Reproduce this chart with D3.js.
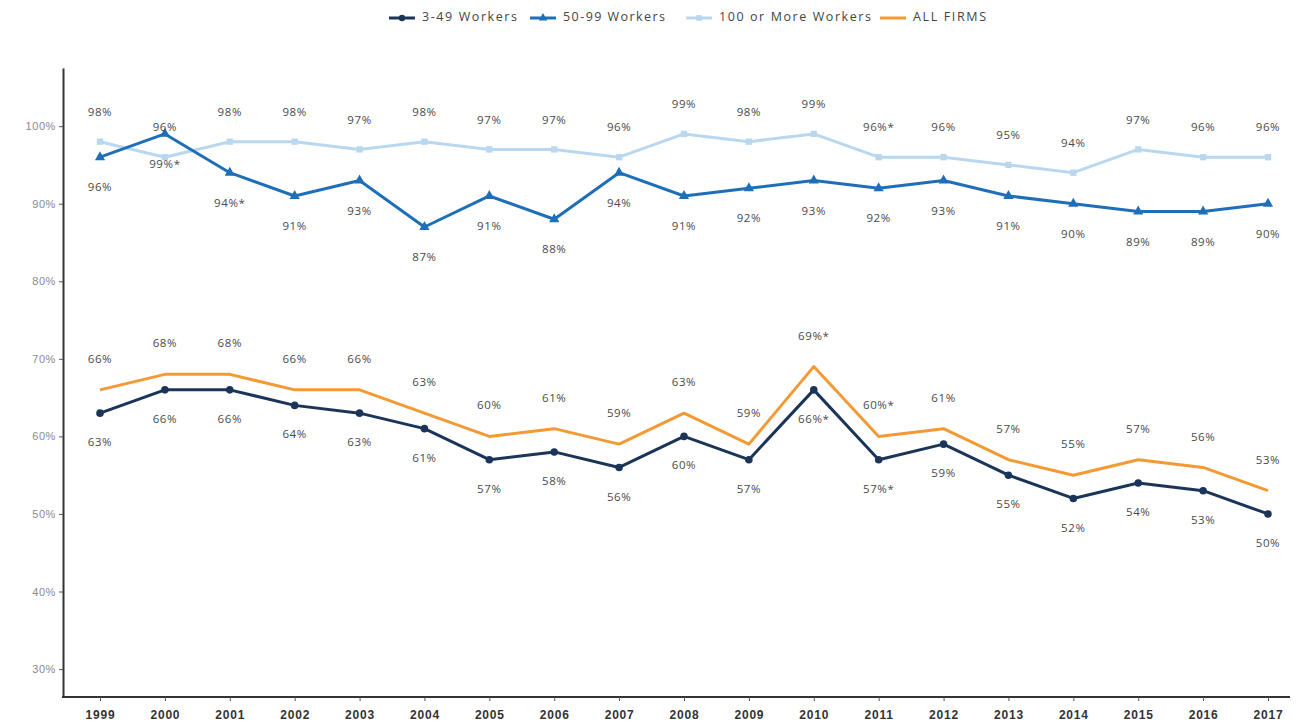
<!DOCTYPE html>
<html><head><meta charset="utf-8">
<script src="https://cdn.jsdelivr.net/npm/d3@7"></script>
<style>body{margin:0;background:#fff;font-family:"Open Sans","DejaVu Sans",sans-serif;}</style>
</head><body><svg id="c" width="1303" height="726"></svg>
<script>
const years = [1999,2000,2001,2002,2003,2004,2005,2006,2007,2008,2009,2010,2011,2012,2013,2014,2015,2016,2017];
const small = [63,66,66,64,63,61,57,58,56,60,57,66,57,59,55,52,54,53,50];
const smallLabels = ["63%","66%","66%","64%","63%","61%","57%","58%","56%","60%","57%","66%*","57%*","59%","55%","52%","54%","53%","50%"];
const mid = [96,99,94,91,93,87,91,88,94,91,92,93,92,93,91,90,89,89,90];
const midLabels = ["96%","99%*","94%*","91%","93%","87%","91%","88%","94%","91%","92%","93%","92%","93%","91%","90%","89%","89%","90%"];
const large = [98,96,98,98,97,98,97,97,96,99,98,99,96,96,95,94,97,96,96];
const largeLabels = ["98%","96%","98%","98%","97%","98%","97%","97%","96%","99%","98%","99%","96%*","96%","95%","94%","97%","96%","96%"];
const all = [66,68,68,66,66,63,60,61,59,63,59,69,60,61,57,55,57,56,53];
const allLabels = ["66%","68%","68%","66%","66%","63%","60%","61%","59%","63%","59%","69%*","60%*","61%","57%","55%","57%","56%","53%"];
const yTicks = [30,40,50,60,70,80,90,100];

const svg = d3.select("#c");
const x = d3.scalePoint().domain(years).range([100,1268]);
const y = d3.scaleLinear().domain([26.4,107.5]).range([697,68]);

const series = [
  {name:"3-49 Workers", vals:small, labels:smallLabels, color:"#1b3558", shape:d3.symbolCircle, size:45, dy:30, order:3},
  {name:"50-99 Workers", vals:mid, labels:midLabels, color:"#1f6fb8", shape:d3.symbolTriangle, size:45, dy:31, order:1},
  {name:"100 or More Workers", vals:large, labels:largeLabels, color:"#b9d8ef", shape:d3.symbolSquare, size:40, dy:-29, order:0},
  {name:"ALL FIRMS", vals:all, labels:allLabels, color:"#f39a34", shape:null, size:0, dy:-30, order:2}
];

// axes
const gy = svg.append("g").attr("transform","translate(63,0)")
  .call(d3.axisLeft(y).tickValues(yTicks).tickFormat(d=>d+"%").tickSize(4).tickSizeOuter(0));
gy.select(".domain").attr("stroke","#333").attr("stroke-width",2);
gy.selectAll(".tick line").attr("stroke","#555");
gy.selectAll(".tick text").attr("fill","#8a8a8a").attr("font-size",11).attr("letter-spacing",0.6).attr("x",-7);

const gx = svg.append("g").attr("transform","translate(0,697)")
  .call(d3.axisBottom(x).tickSize(4).tickSizeOuter(0));
gx.select(".domain").attr("d","M62,0H1290").attr("stroke","#333").attr("stroke-width",2);
gx.selectAll(".tick line").attr("stroke","#555");
gx.selectAll(".tick text").attr("fill","#333").attr("font-size",12).attr("font-weight","bold").attr("letter-spacing",0.8).attr("y",13);

const line = d3.line().x((d,i)=>x(years[i])).y(d=>y(d));
const drawOrder = [...series].sort((a,b)=>a.order-b.order);
drawOrder.forEach(s=>{
  svg.append("path").datum(s.vals).attr("d",line).attr("fill","none")
    .attr("stroke",s.color).attr("stroke-width",3).attr("stroke-linejoin","round");
  if(s.shape){
    svg.append("g").selectAll("path").data(s.vals).join("path")
      .attr("d",d3.symbol().type(s.shape).size(s.size))
      .attr("transform",(d,i)=>`translate(${x(years[i])},${y(d)})`)
      .attr("fill",s.color);
  }
});
series.forEach(s=>{
  svg.append("g").selectAll("text").data(s.vals).join("text")
    .attr("x",(d,i)=>x(years[i])).attr("y",d=>y(d)+s.dy)
    .attr("text-anchor","middle").attr("dominant-baseline","middle")
    .attr("font-size",11.5).attr("letter-spacing",0.6).attr("fill","#4a4a4a")
    .text((d,i)=>s.labels[i]);
});

// legend
const legX = [389,530,686,880];
const legW = [95,102,152,73];
series.forEach((s,i)=>{
  const g = svg.append("g").attr("transform",`translate(${legX[i]},18)`);
  g.append("line").attr("x1",0).attr("x2",26).attr("stroke",s.color).attr("stroke-width",3);
  if(s.shape) g.append("path").attr("d",d3.symbol().type(s.shape).size(32)).attr("transform","translate(13,0)").attr("fill",s.color);
  g.append("text").attr("x",33).attr("y",0).attr("dominant-baseline","middle")
    .attr("font-size",12.5).attr("fill","#444")
    .attr("textLength",legW[i]).attr("lengthAdjust","spacing").text(s.name);
});
</script></body></html>
